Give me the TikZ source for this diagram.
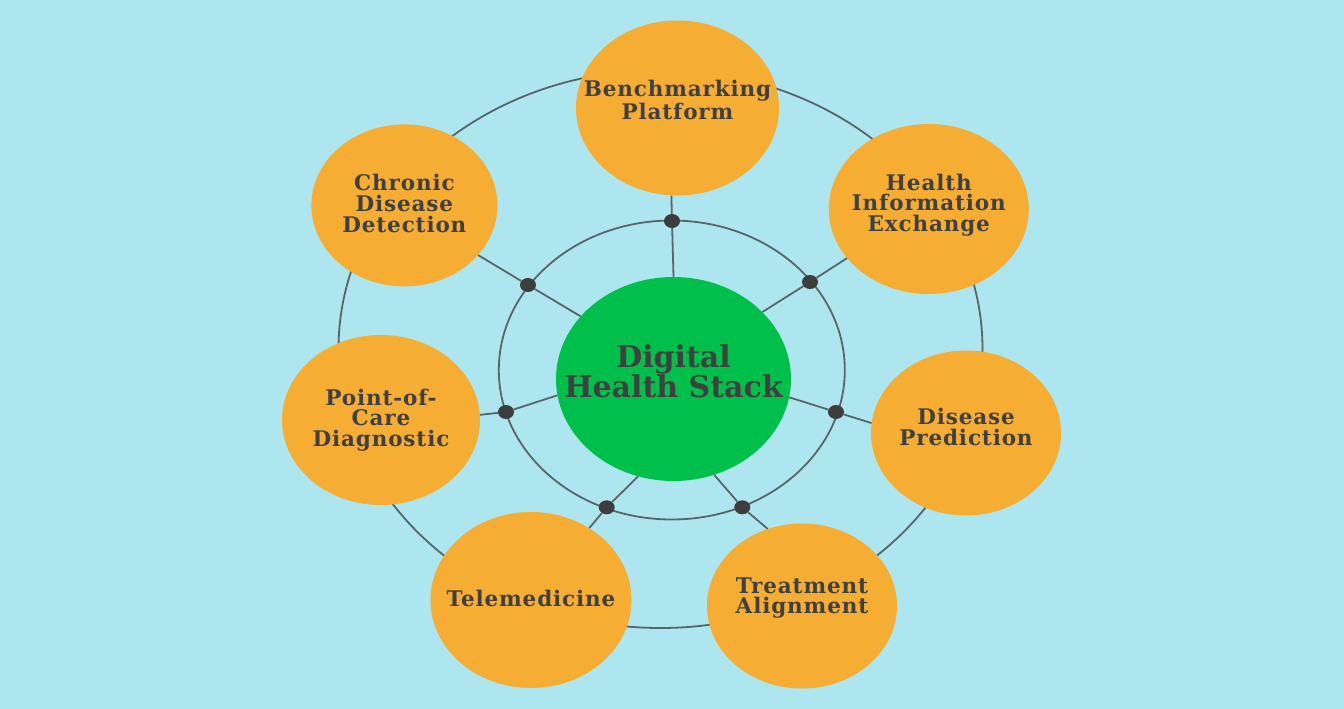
\documentclass[tikz,border=0pt]{standalone}
\usepackage{fontspec}
\setmainfont{DejaVu Serif}
\newfontfamily\orbfont[LetterSpace=4]{DejaVu Serif}
\usetikzlibrary{shapes.geometric, positioning}

\definecolor{skybg}{HTML}{ADE6EE}
\definecolor{orbfill}{HTML}{F5AD33}
\definecolor{hubfill}{HTML}{00BF4B}
\definecolor{linegray}{HTML}{59656A}
\definecolor{jointgray}{HTML}{3D3D3D}
\definecolor{inkgray}{HTML}{404040}

\begin{document}
\begin{tikzpicture}[x=1pt, y=-1pt]
    \tikzset{
        orb/.style = {ellipse, fill=orbfill, inner sep=0pt},
        hub/.style = {ellipse, fill=hubfill, inner sep=0pt},
        lbl/.style = {text=inkgray, align=center,
                      font=\orbfont\bfseries\fontsize{21.5}{20.7}\selectfont},
        hublbl/.style = {text=inkgray, align=center,
                         font=\bfseries\fontsize{30}{30}\selectfont},
        joint/.style = {ellipse, fill=jointgray, minimum width=16pt,
                        minimum height=14pt, inner sep=0pt},
        ring/.style = {draw=linegray, line width=1.8pt},
        spoke/.style = {draw=linegray, line width=1.8pt}
    }

    % fond
    \fill [skybg] (0,0) rectangle (1344,709);
    \useasboundingbox (0,0) rectangle (1344,709);

    % anneaux
    \draw [ring] (660.5,349) ellipse [x radius=322, y radius=279];
    \draw [ring] (671.8,370) ellipse [x radius=173, y radius=149.5];

    % noeud central
    \node [hub, minimum width=235pt, minimum height=204pt,
           label={[hublbl, yshift=8pt]center:{Digital\\Health Stack}}] (stack) at (673.5,379) {};

    % noeuds externes
    \node [orb, minimum width=203pt, minimum height=175pt,
           label={[lbl, yshift=8pt]center:{Benchmarking\\Platform}}] (bench) at (677.5,108) {};
    \node [orb, minimum width=200pt, minimum height=170pt,
           label={[lbl, yshift=4pt]center:{Health\\Information\\Exchange}}] (hie) at (928.8,209) {};
    \node [orb, minimum width=190pt, minimum height=165pt,
           label={[lbl, yshift=6pt]center:{Disease\\Prediction}}] (predict) at (966,433) {};
    \node [orb, minimum width=190pt, minimum height=165pt,
           label={[lbl, yshift=8pt]center:{Treatment\\Alignment}}] (treat) at (802,606) {};
    \node [orb, minimum width=201pt, minimum height=176pt,
           label={[lbl, yshift=2pt]center:{Telemedicine}}] (tele) at (531,600) {};
    \node [orb, minimum width=198pt, minimum height=170pt,
           label={[lbl]center:{Point-of-\\Care\\Diagnostic}}] (poc) at (381,420) {};
    \node [orb, minimum width=186pt, minimum height=162pt,
           label={[lbl, yshift=2pt]center:{Chronic\\Disease\\Detection}}] (chronic) at (404.4,205.4) {};

    % points de jonction
    \node [joint] (j1) at (672,221) {};
    \node [joint] (j2) at (810,282) {};
    \node [joint] (j3) at (836,412) {};
    \node [joint] (j4) at (742.3,507.3) {};
    \node [joint] (j5) at (606.7,507.3) {};
    \node [joint] (j6) at (506,412) {};
    \node [joint] (j7) at (528,285) {};

    % rayons
    \draw [spoke] (stack.90.7) -- (j1) -- (bench.266.4);
    \draw [spoke] (stack.37.7) -- (j2) -- (hie.211.9);
    \draw [spoke] (stack.-9.4) -- (j3) -- (predict.174.5);
    \draw [spoke] (stack.-67.7) -- (j4) -- (treat.114);
    \draw [spoke] (stack.250.2) -- (j5) -- (tele.51.5);
    \draw [spoke] (stack.188.6) -- (j6) -- (poc.3);
    \draw [spoke] (stack.146.2) -- (j7) -- (chronic.-34.3);

\end{tikzpicture}
\end{document}
